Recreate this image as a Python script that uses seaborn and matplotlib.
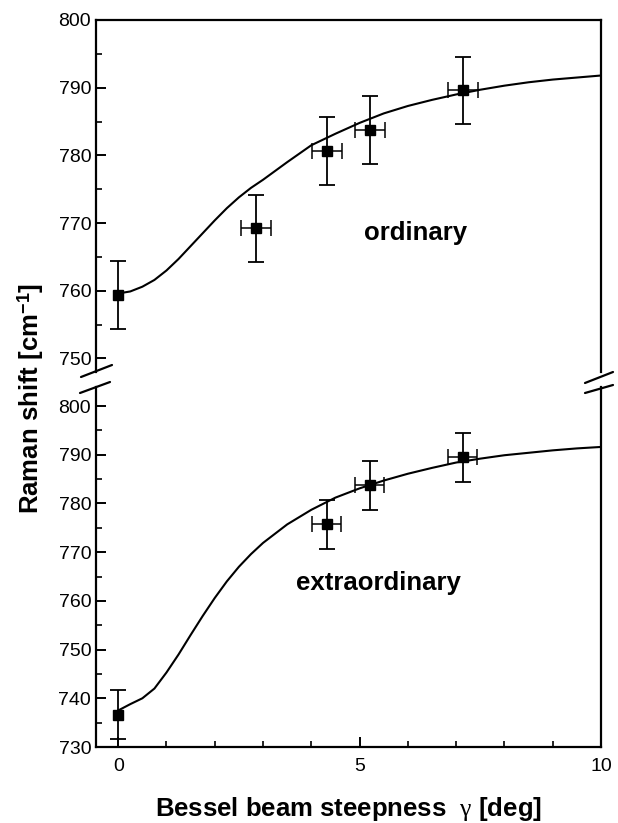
import numpy as np
import pandas as pd
import matplotlib
matplotlib.use("Agg")
import matplotlib.pyplot as plt
from matplotlib.lines import Line2D
from matplotlib.ticker import MultipleLocator
import seaborn as sns

# measured points (x = steepness in deg, y = Raman shift in cm^-1)
ord_x = [0.0, 2.85, 4.33, 5.22, 7.14]
ord_y = [759.4, 769.2, 780.6, 783.8, 789.6]
ord_yerr = [5.0, 5.0, 5.0, 5.0, 5.0]
ord_xerr = [0.0, 0.31, 0.31, 0.31, 0.31]

ext_x = [0.0, 4.32, 5.21, 7.14]
ext_y = [736.6, 775.7, 783.7, 789.5]
ext_yerr = [5.0, 5.0, 5.0, 5.0]
ext_xerr = [0.0, 0.3, 0.3, 0.3]

# theory curves
curve_x = [0.0, 0.25, 0.5, 0.75, 1.0, 1.25, 1.5, 1.75, 2.0, 2.25, 2.5, 2.75,
           3.0, 3.5, 4.0, 4.5, 5.0, 5.5, 6.0, 6.5, 7.0, 7.5, 8.0, 8.5, 9.0,
           9.5, 10.0]
ord_curve = [759.6, 759.9, 760.6, 761.6, 763.0, 764.7, 766.6, 768.5, 770.4,
             772.2, 773.8, 775.2, 776.4, 779.0, 781.5, 783.2, 784.8, 786.2,
             787.3, 788.2, 789.0, 789.7, 790.3, 790.8, 791.2, 791.5, 791.8]
ext_curve = [737.5, 738.8, 740.0, 742.0, 745.3, 749.0, 753.0, 756.9, 760.6,
             764.0, 767.0, 769.6, 771.9, 775.7, 778.7, 781.2, 783.1, 784.7,
             786.1, 787.3, 788.4, 789.2, 789.9, 790.4, 790.9, 791.3, 791.6]

x_ticks = [0, 5, 10]
top_yticks = [750, 760, 770, 780, 790, 800]
bot_yticks = [730, 740, 750, 760, 770, 780, 790, 800]

sns.set_style("ticks")
plt.rcParams['font.family'] = ['Liberation Sans', 'DejaVu Sans']
plt.rcParams['text.color'] = 'black'
plt.rcParams['axes.labelcolor'] = 'black'
plt.rcParams['mathtext.fontset'] = 'custom'
plt.rcParams['mathtext.rm'] = 'Liberation Sans'
plt.rcParams['mathtext.bf'] = 'Liberation Sans:bold'
plt.rcParams['mathtext.it'] = 'Liberation Serif'

W, H = 618, 823
fig = plt.figure(figsize=(W / 100, H / 100), dpi=100)


def px_rect(left, top, right, bottom):
    return [left / W, 1 - bottom / H, (right - left) / W, (bottom - top) / H]


ax_top = fig.add_axes(px_rect(96, 20, 601, 372))
ax_bot = fig.add_axes(px_rect(96, 387, 601, 747), sharex=ax_top)

curves = pd.DataFrame({'x': curve_x, 'ord': ord_curve, 'ext': ext_curve})


def draw_panel(ax, col, px, py, pyerr, pxerr):
    sns.lineplot(data=curves, x='x', y=col, ax=ax, color='black', lw=1.5,
                 legend=False)
    ax.errorbar(px, py, yerr=pyerr, fmt='s', color='black', ms=7.5,
                elinewidth=1.3, capsize=6, capthick=1.3)
    xe = np.array(pxerr)
    m = xe > 0
    ax.errorbar(np.array(px)[m], np.array(py)[m], xerr=xe[m], fmt='none',
                ecolor='black', elinewidth=1.1, capsize=6, capthick=1.1)
    ax.set_xlabel('')
    ax.set_ylabel('')
    for s in ax.spines.values():
        s.set_linewidth(1.6)
        s.set_color('black')
    ax.tick_params(axis='both', which='major', direction='in', length=7,
                   width=1.4, labelsize=14, colors='black', right=False,
                   top=False)
    ax.tick_params(axis='both', which='minor', direction='in', length=4.5,
                   width=1.2, colors='black', right=False, top=False)
    ax.yaxis.set_minor_locator(MultipleLocator(5))
    ax.xaxis.set_minor_locator(MultipleLocator(1))


draw_panel(ax_top, 'ord', ord_x, ord_y, ord_yerr, ord_xerr)
draw_panel(ax_bot, 'ext', ext_x, ext_y, ext_yerr, ext_xerr)

ax_top.set_xlim(-0.46, 10)
ax_top.set_ylim(748, 800)
ax_bot.set_ylim(730, 730 + (747 - 387) / 4.871)
ax_top.set_yticks(top_yticks)
ax_bot.set_yticks(bot_yticks)
ax_bot.set_xticks(x_ticks)

ax_top.spines['bottom'].set_visible(False)
ax_top.tick_params(axis='x', which='both', bottom=False, labelbottom=False)
ax_bot.spines['top'].set_visible(False)
ax_bot.tick_params(axis='x', which='major', pad=8)

ax_top.text(6.15, 768.5, 'ordinary', fontsize=18.5, fontweight='bold',
            ha='center', va='center', color='black')
ax_bot.text(5.4, 763.7, 'extraordinary', fontsize=18.5, fontweight='bold',
            ha='center', va='center', color='black')

ax_bot.set_xlabel(r'Bessel beam steepness  $\gamma$ [deg]', fontsize=18.5,
                  fontweight='bold', labelpad=14, color='black')
fig.text(31 / W, 1 - 399 / H, r'Raman shift [cm$^{\mathbf{-1}}$]',
         fontsize=18.5, fontweight='bold', rotation=90, ha='center',
         va='center', color='black')

# axis break marks
for (x0, y0, x1, y1) in [(81, 377, 112, 365), (80, 393, 110, 382),
                         (585, 383, 613, 372), (585, 393, 613, 385)]:
    fig.add_artist(Line2D([x0 / W, x1 / W], [1 - y0 / H, 1 - y1 / H],
                          color='black', lw=1.6, transform=fig.transFigure))

fig.savefig('out.png', dpi=100)
